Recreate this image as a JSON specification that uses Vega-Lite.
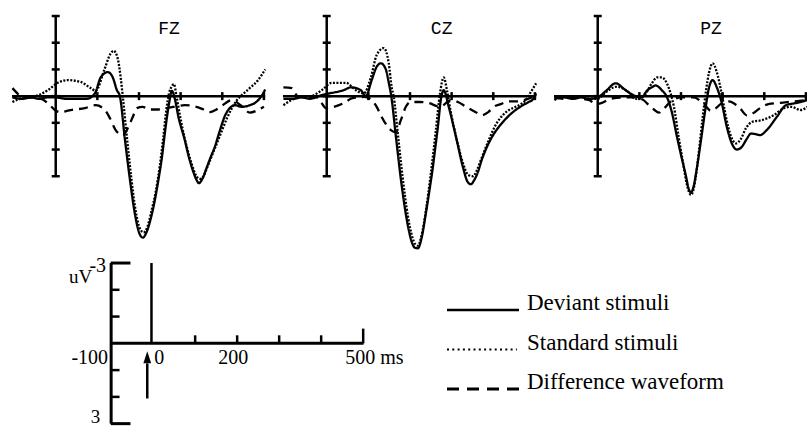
{
  "$schema": "https://vega.github.io/schema/vega-lite/v6.json",
  "padding": {"left": 7, "top": 0, "right": 0, "bottom": 0},
  "background": "white",
  "config": {"view": {"stroke": null}},
  "bounds": "full",
  "spacing": 2,
  "datasets": {
    "erp": [
      {"ch":"FZ","cond":"Deviant","t":-104,"uV":0.05},{"ch":"FZ","cond":"Deviant","t":-80,"uV":0.1},{"ch":"FZ","cond":"Deviant","t":-60,"uV":0.05},{"ch":"FZ","cond":"Deviant","t":-40,"uV":0.1},{"ch":"FZ","cond":"Deviant","t":-20,"uV":0.05},{"ch":"FZ","cond":"Deviant","t":0,"uV":0.05},{"ch":"FZ","cond":"Deviant","t":25,"uV":0.1},{"ch":"FZ","cond":"Deviant","t":50,"uV":0.1},{"ch":"FZ","cond":"Deviant","t":75,"uV":0.1},{"ch":"FZ","cond":"Deviant","t":94,"uV":-0.1},{"ch":"FZ","cond":"Deviant","t":108,"uV":-0.7},{"ch":"FZ","cond":"Deviant","t":125,"uV":-0.9},{"ch":"FZ","cond":"Deviant","t":137,"uV":-0.7},{"ch":"FZ","cond":"Deviant","t":147,"uV":-0.22},{"ch":"FZ","cond":"Deviant","t":154,"uV":0},{"ch":"FZ","cond":"Deviant","t":166,"uV":1.6},{"ch":"FZ","cond":"Deviant","t":178,"uV":3.1},{"ch":"FZ","cond":"Deviant","t":190,"uV":4.4},{"ch":"FZ","cond":"Deviant","t":200,"uV":5.1},{"ch":"FZ","cond":"Deviant","t":209,"uV":5.3},{"ch":"FZ","cond":"Deviant","t":218,"uV":5.1},{"ch":"FZ","cond":"Deviant","t":228,"uV":4.6},{"ch":"FZ","cond":"Deviant","t":238,"uV":3.9},{"ch":"FZ","cond":"Deviant","t":247,"uV":3.1},{"ch":"FZ","cond":"Deviant","t":255,"uV":2.3},{"ch":"FZ","cond":"Deviant","t":262,"uV":1.4},{"ch":"FZ","cond":"Deviant","t":267,"uV":0.8},{"ch":"FZ","cond":"Deviant","t":273,"uV":0.2},{"ch":"FZ","cond":"Deviant","t":279,"uV":-0.2},{"ch":"FZ","cond":"Deviant","t":286,"uV":0.1},{"ch":"FZ","cond":"Deviant","t":295,"uV":0.8},{"ch":"FZ","cond":"Deviant","t":310,"uV":1.65},{"ch":"FZ","cond":"Deviant","t":320,"uV":2.3},{"ch":"FZ","cond":"Deviant","t":329,"uV":2.77},{"ch":"FZ","cond":"Deviant","t":337,"uV":3.1},{"ch":"FZ","cond":"Deviant","t":344,"uV":3.26},{"ch":"FZ","cond":"Deviant","t":352,"uV":3.1},{"ch":"FZ","cond":"Deviant","t":362,"uV":2.7},{"ch":"FZ","cond":"Deviant","t":373,"uV":2.25},{"ch":"FZ","cond":"Deviant","t":382,"uV":1.9},{"ch":"FZ","cond":"Deviant","t":394,"uV":1.3},{"ch":"FZ","cond":"Deviant","t":406,"uV":0.75},{"ch":"FZ","cond":"Deviant","t":418,"uV":0.45},{"ch":"FZ","cond":"Deviant","t":430,"uV":0.34},{"ch":"FZ","cond":"Deviant","t":447,"uV":0.4},{"ch":"FZ","cond":"Deviant","t":466,"uV":0.34},{"ch":"FZ","cond":"Deviant","t":483,"uV":0.2},{"ch":"FZ","cond":"Deviant","t":498,"uV":-0.1},{"ch":"FZ","cond":"Deviant","t":503,"uV":-0.25},
      {"ch":"FZ","cond":"Standard","t":-104,"uV":0.22},{"ch":"FZ","cond":"Standard","t":-85,"uV":0.1},{"ch":"FZ","cond":"Standard","t":-60,"uV":0.05},{"ch":"FZ","cond":"Standard","t":-40,"uV":-0.05},{"ch":"FZ","cond":"Standard","t":-19,"uV":-0.22},{"ch":"FZ","cond":"Standard","t":5,"uV":-0.5},{"ch":"FZ","cond":"Standard","t":29,"uV":-0.6},{"ch":"FZ","cond":"Standard","t":60,"uV":-0.53},{"ch":"FZ","cond":"Standard","t":84,"uV":-0.3},{"ch":"FZ","cond":"Standard","t":96,"uV":-0.2},{"ch":"FZ","cond":"Standard","t":117,"uV":-1.0},{"ch":"FZ","cond":"Standard","t":132,"uV":-1.6},{"ch":"FZ","cond":"Standard","t":139,"uV":-1.7},{"ch":"FZ","cond":"Standard","t":149,"uV":-1.4},{"ch":"FZ","cond":"Standard","t":156,"uV":-0.7},{"ch":"FZ","cond":"Standard","t":161,"uV":0},{"ch":"FZ","cond":"Standard","t":170,"uV":1.4},{"ch":"FZ","cond":"Standard","t":181,"uV":3.0},{"ch":"FZ","cond":"Standard","t":192,"uV":4.3},{"ch":"FZ","cond":"Standard","t":202,"uV":4.95},{"ch":"FZ","cond":"Standard","t":211,"uV":5.1},{"ch":"FZ","cond":"Standard","t":220,"uV":4.9},{"ch":"FZ","cond":"Standard","t":230,"uV":4.3},{"ch":"FZ","cond":"Standard","t":240,"uV":3.6},{"ch":"FZ","cond":"Standard","t":250,"uV":2.6},{"ch":"FZ","cond":"Standard","t":258,"uV":1.6},{"ch":"FZ","cond":"Standard","t":265,"uV":0.6},{"ch":"FZ","cond":"Standard","t":272,"uV":-0.1},{"ch":"FZ","cond":"Standard","t":278,"uV":-0.35},{"ch":"FZ","cond":"Standard","t":284,"uV":-0.45},{"ch":"FZ","cond":"Standard","t":290,"uV":0},{"ch":"FZ","cond":"Standard","t":298,"uV":0.7},{"ch":"FZ","cond":"Standard","t":310,"uV":1.6},{"ch":"FZ","cond":"Standard","t":320,"uV":2.2},{"ch":"FZ","cond":"Standard","t":330,"uV":2.7},{"ch":"FZ","cond":"Standard","t":338,"uV":3.0},{"ch":"FZ","cond":"Standard","t":346,"uV":3.1},{"ch":"FZ","cond":"Standard","t":355,"uV":3.0},{"ch":"FZ","cond":"Standard","t":363,"uV":2.7},{"ch":"FZ","cond":"Standard","t":372,"uV":2.35},{"ch":"FZ","cond":"Standard","t":381,"uV":2.0},{"ch":"FZ","cond":"Standard","t":399,"uV":1.3},{"ch":"FZ","cond":"Standard","t":412,"uV":0.8},{"ch":"FZ","cond":"Standard","t":423,"uV":0.46},{"ch":"FZ","cond":"Standard","t":435,"uV":0.15},{"ch":"FZ","cond":"Standard","t":447,"uV":-0.04},{"ch":"FZ","cond":"Standard","t":466,"uV":-0.3},{"ch":"FZ","cond":"Standard","t":486,"uV":-0.6},{"ch":"FZ","cond":"Standard","t":503,"uV":-1.0},
      {"ch":"FZ","cond":"Difference","t":-104,"uV":-0.3},{"ch":"FZ","cond":"Difference","t":-95,"uV":-0.15},{"ch":"FZ","cond":"Difference","t":-85,"uV":0.0},{"ch":"FZ","cond":"Difference","t":-60,"uV":0.05},{"ch":"FZ","cond":"Difference","t":-35,"uV":0.1},{"ch":"FZ","cond":"Difference","t":-14,"uV":0.34},{"ch":"FZ","cond":"Difference","t":-2,"uV":0.52},{"ch":"FZ","cond":"Difference","t":12,"uV":0.6},{"ch":"FZ","cond":"Difference","t":36,"uV":0.52},{"ch":"FZ","cond":"Difference","t":70,"uV":0.45},{"ch":"FZ","cond":"Difference","t":96,"uV":0.34},{"ch":"FZ","cond":"Difference","t":118,"uV":0.52},{"ch":"FZ","cond":"Difference","t":130,"uV":0.82},{"ch":"FZ","cond":"Difference","t":144,"uV":1.27},{"ch":"FZ","cond":"Difference","t":161,"uV":1.46},{"ch":"FZ","cond":"Difference","t":173,"uV":1.2},{"ch":"FZ","cond":"Difference","t":185,"uV":0.78},{"ch":"FZ","cond":"Difference","t":195,"uV":0.45},{"ch":"FZ","cond":"Difference","t":209,"uV":0.4},{"ch":"FZ","cond":"Difference","t":225,"uV":0.5},{"ch":"FZ","cond":"Difference","t":245,"uV":0.5},{"ch":"FZ","cond":"Difference","t":268,"uV":0.45},{"ch":"FZ","cond":"Difference","t":290,"uV":0.38},{"ch":"FZ","cond":"Difference","t":310,"uV":0.34},{"ch":"FZ","cond":"Difference","t":338,"uV":0.4},{"ch":"FZ","cond":"Difference","t":355,"uV":0.5},{"ch":"FZ","cond":"Difference","t":370,"uV":0.6},{"ch":"FZ","cond":"Difference","t":386,"uV":0.5},{"ch":"FZ","cond":"Difference","t":401,"uV":0.34},{"ch":"FZ","cond":"Difference","t":423,"uV":0.15},{"ch":"FZ","cond":"Difference","t":445,"uV":0.35},{"ch":"FZ","cond":"Difference","t":466,"uV":0.62},{"ch":"FZ","cond":"Difference","t":482,"uV":0.55},{"ch":"FZ","cond":"Difference","t":500,"uV":0.4},
      {"ch":"CZ","cond":"Deviant","t":-104,"uV":0.1},{"ch":"CZ","cond":"Deviant","t":-80,"uV":0.1},{"ch":"CZ","cond":"Deviant","t":-60,"uV":0.05},{"ch":"CZ","cond":"Deviant","t":-40,"uV":0.1},{"ch":"CZ","cond":"Deviant","t":-20,"uV":0.0},{"ch":"CZ","cond":"Deviant","t":5,"uV":-0.1},{"ch":"CZ","cond":"Deviant","t":22,"uV":-0.15},{"ch":"CZ","cond":"Deviant","t":40,"uV":-0.22},{"ch":"CZ","cond":"Deviant","t":58,"uV":-0.33},{"ch":"CZ","cond":"Deviant","t":82,"uV":-0.22},{"ch":"CZ","cond":"Deviant","t":94,"uV":0},{"ch":"CZ","cond":"Deviant","t":108,"uV":-0.6},{"ch":"CZ","cond":"Deviant","t":120,"uV":-1.1},{"ch":"CZ","cond":"Deviant","t":130,"uV":-1.23},{"ch":"CZ","cond":"Deviant","t":142,"uV":-1.0},{"ch":"CZ","cond":"Deviant","t":149,"uV":-0.5},{"ch":"CZ","cond":"Deviant","t":155,"uV":0},{"ch":"CZ","cond":"Deviant","t":166,"uV":1.5},{"ch":"CZ","cond":"Deviant","t":178,"uV":3.1},{"ch":"CZ","cond":"Deviant","t":192,"uV":4.6},{"ch":"CZ","cond":"Deviant","t":204,"uV":5.45},{"ch":"CZ","cond":"Deviant","t":212,"uV":5.68},{"ch":"CZ","cond":"Deviant","t":219,"uV":5.7},{"ch":"CZ","cond":"Deviant","t":228,"uV":5.3},{"ch":"CZ","cond":"Deviant","t":238,"uV":4.4},{"ch":"CZ","cond":"Deviant","t":247,"uV":3.5},{"ch":"CZ","cond":"Deviant","t":255,"uV":2.65},{"ch":"CZ","cond":"Deviant","t":261,"uV":1.9},{"ch":"CZ","cond":"Deviant","t":267,"uV":1.15},{"ch":"CZ","cond":"Deviant","t":274,"uV":0.15},{"ch":"CZ","cond":"Deviant","t":281,"uV":-0.22},{"ch":"CZ","cond":"Deviant","t":293,"uV":0.4},{"ch":"CZ","cond":"Deviant","t":310,"uV":1.5},{"ch":"CZ","cond":"Deviant","t":327,"uV":2.65},{"ch":"CZ","cond":"Deviant","t":338,"uV":3.2},{"ch":"CZ","cond":"Deviant","t":346,"uV":3.3},{"ch":"CZ","cond":"Deviant","t":354,"uV":3.15},{"ch":"CZ","cond":"Deviant","t":363,"uV":2.85},{"ch":"CZ","cond":"Deviant","t":372,"uV":2.4},{"ch":"CZ","cond":"Deviant","t":382,"uV":2.0},{"ch":"CZ","cond":"Deviant","t":398,"uV":1.5},{"ch":"CZ","cond":"Deviant","t":413,"uV":1.16},{"ch":"CZ","cond":"Deviant","t":430,"uV":0.85},{"ch":"CZ","cond":"Deviant","t":447,"uV":0.6},{"ch":"CZ","cond":"Deviant","t":460,"uV":0.45},{"ch":"CZ","cond":"Deviant","t":471,"uV":0.34},{"ch":"CZ","cond":"Deviant","t":485,"uV":0.22},{"ch":"CZ","cond":"Deviant","t":495,"uV":0.12},{"ch":"CZ","cond":"Deviant","t":503,"uV":-0.1},
      {"ch":"CZ","cond":"Standard","t":-104,"uV":0.34},{"ch":"CZ","cond":"Standard","t":-85,"uV":0.15},{"ch":"CZ","cond":"Standard","t":-60,"uV":0.0},{"ch":"CZ","cond":"Standard","t":-40,"uV":0.0},{"ch":"CZ","cond":"Standard","t":-12,"uV":-0.22},{"ch":"CZ","cond":"Standard","t":12,"uV":-0.5},{"ch":"CZ","cond":"Standard","t":46,"uV":-0.5},{"ch":"CZ","cond":"Standard","t":70,"uV":-0.22},{"ch":"CZ","cond":"Standard","t":89,"uV":-0.1},{"ch":"CZ","cond":"Standard","t":106,"uV":-0.7},{"ch":"CZ","cond":"Standard","t":120,"uV":-1.54},{"ch":"CZ","cond":"Standard","t":137,"uV":-1.8},{"ch":"CZ","cond":"Standard","t":149,"uV":-1.23},{"ch":"CZ","cond":"Standard","t":156,"uV":-0.33},{"ch":"CZ","cond":"Standard","t":161,"uV":0.03},{"ch":"CZ","cond":"Standard","t":170,"uV":1.3},{"ch":"CZ","cond":"Standard","t":182,"uV":3.0},{"ch":"CZ","cond":"Standard","t":195,"uV":4.5},{"ch":"CZ","cond":"Standard","t":206,"uV":5.3},{"ch":"CZ","cond":"Standard","t":213,"uV":5.55},{"ch":"CZ","cond":"Standard","t":219,"uV":5.6},{"ch":"CZ","cond":"Standard","t":228,"uV":5.2},{"ch":"CZ","cond":"Standard","t":238,"uV":4.3},{"ch":"CZ","cond":"Standard","t":250,"uV":2.9},{"ch":"CZ","cond":"Standard","t":262,"uV":1.3},{"ch":"CZ","cond":"Standard","t":272,"uV":-0.1},{"ch":"CZ","cond":"Standard","t":281,"uV":-0.7},{"ch":"CZ","cond":"Standard","t":289,"uV":-0.2},{"ch":"CZ","cond":"Standard","t":298,"uV":0.6},{"ch":"CZ","cond":"Standard","t":312,"uV":1.6},{"ch":"CZ","cond":"Standard","t":327,"uV":2.5},{"ch":"CZ","cond":"Standard","t":340,"uV":2.95},{"ch":"CZ","cond":"Standard","t":351,"uV":3.0},{"ch":"CZ","cond":"Standard","t":360,"uV":2.8},{"ch":"CZ","cond":"Standard","t":370,"uV":2.4},{"ch":"CZ","cond":"Standard","t":389,"uV":1.65},{"ch":"CZ","cond":"Standard","t":405,"uV":1.1},{"ch":"CZ","cond":"Standard","t":423,"uV":0.71},{"ch":"CZ","cond":"Standard","t":440,"uV":0.5},{"ch":"CZ","cond":"Standard","t":454,"uV":0.4},{"ch":"CZ","cond":"Standard","t":466,"uV":0.3},{"ch":"CZ","cond":"Standard","t":478,"uV":0.15},{"ch":"CZ","cond":"Standard","t":490,"uV":-0.15},{"ch":"CZ","cond":"Standard","t":503,"uV":-0.48},
      {"ch":"CZ","cond":"Difference","t":-104,"uV":-0.33},{"ch":"CZ","cond":"Difference","t":-84,"uV":-0.3},{"ch":"CZ","cond":"Difference","t":-70,"uV":0.0},{"ch":"CZ","cond":"Difference","t":-45,"uV":0.05},{"ch":"CZ","cond":"Difference","t":-25,"uV":0.05},{"ch":"CZ","cond":"Difference","t":-14,"uV":0.22},{"ch":"CZ","cond":"Difference","t":-2,"uV":0.45},{"ch":"CZ","cond":"Difference","t":17,"uV":0.4},{"ch":"CZ","cond":"Difference","t":46,"uV":0.22},{"ch":"CZ","cond":"Difference","t":60,"uV":0.08},{"ch":"CZ","cond":"Difference","t":90,"uV":0.03},{"ch":"CZ","cond":"Difference","t":108,"uV":0.15},{"ch":"CZ","cond":"Difference","t":120,"uV":0.4},{"ch":"CZ","cond":"Difference","t":132,"uV":0.78},{"ch":"CZ","cond":"Difference","t":154,"uV":1.27},{"ch":"CZ","cond":"Difference","t":166,"uV":1.35},{"ch":"CZ","cond":"Difference","t":178,"uV":0.9},{"ch":"CZ","cond":"Difference","t":190,"uV":0.4},{"ch":"CZ","cond":"Difference","t":202,"uV":0.22},{"ch":"CZ","cond":"Difference","t":222,"uV":0.22},{"ch":"CZ","cond":"Difference","t":245,"uV":0.26},{"ch":"CZ","cond":"Difference","t":272,"uV":0.4},{"ch":"CZ","cond":"Difference","t":298,"uV":0.15},{"ch":"CZ","cond":"Difference","t":315,"uV":0.22},{"ch":"CZ","cond":"Difference","t":335,"uV":0.4},{"ch":"CZ","cond":"Difference","t":358,"uV":0.6},{"ch":"CZ","cond":"Difference","t":373,"uV":0.71},{"ch":"CZ","cond":"Difference","t":388,"uV":0.6},{"ch":"CZ","cond":"Difference","t":401,"uV":0.4},{"ch":"CZ","cond":"Difference","t":418,"uV":0.3},{"ch":"CZ","cond":"Difference","t":435,"uV":0.2},{"ch":"CZ","cond":"Difference","t":455,"uV":0.2},{"ch":"CZ","cond":"Difference","t":474,"uV":0.15},{"ch":"CZ","cond":"Difference","t":500,"uV":0.0},
      {"ch":"PZ","cond":"Deviant","t":-104,"uV":0.1},{"ch":"PZ","cond":"Deviant","t":-80,"uV":0.05},{"ch":"PZ","cond":"Deviant","t":-60,"uV":0.1},{"ch":"PZ","cond":"Deviant","t":-40,"uV":0.05},{"ch":"PZ","cond":"Deviant","t":-20,"uV":0.1},{"ch":"PZ","cond":"Deviant","t":0,"uV":0.05},{"ch":"PZ","cond":"Deviant","t":20,"uV":-0.2},{"ch":"PZ","cond":"Deviant","t":43,"uV":-0.48},{"ch":"PZ","cond":"Deviant","t":67,"uV":-0.22},{"ch":"PZ","cond":"Deviant","t":91,"uV":0},{"ch":"PZ","cond":"Deviant","t":105,"uV":0.05},{"ch":"PZ","cond":"Deviant","t":118,"uV":-0.2},{"ch":"PZ","cond":"Deviant","t":130,"uV":-0.33},{"ch":"PZ","cond":"Deviant","t":139,"uV":-0.4},{"ch":"PZ","cond":"Deviant","t":154,"uV":-0.22},{"ch":"PZ","cond":"Deviant","t":166,"uV":0.03},{"ch":"PZ","cond":"Deviant","t":178,"uV":0.6},{"ch":"PZ","cond":"Deviant","t":190,"uV":1.5},{"ch":"PZ","cond":"Deviant","t":200,"uV":2.2},{"ch":"PZ","cond":"Deviant","t":212,"uV":3.0},{"ch":"PZ","cond":"Deviant","t":219,"uV":3.5},{"ch":"PZ","cond":"Deviant","t":224,"uV":3.6},{"ch":"PZ","cond":"Deviant","t":230,"uV":3.4},{"ch":"PZ","cond":"Deviant","t":236,"uV":2.9},{"ch":"PZ","cond":"Deviant","t":248,"uV":1.65},{"ch":"PZ","cond":"Deviant","t":260,"uV":0.34},{"ch":"PZ","cond":"Deviant","t":267,"uV":-0.3},{"ch":"PZ","cond":"Deviant","t":276,"uV":-0.6},{"ch":"PZ","cond":"Deviant","t":286,"uV":-0.33},{"ch":"PZ","cond":"Deviant","t":298,"uV":0.26},{"ch":"PZ","cond":"Deviant","t":310,"uV":1.15},{"ch":"PZ","cond":"Deviant","t":322,"uV":1.77},{"ch":"PZ","cond":"Deviant","t":334,"uV":2.0},{"ch":"PZ","cond":"Deviant","t":346,"uV":1.9},{"ch":"PZ","cond":"Deviant","t":358,"uV":1.6},{"ch":"PZ","cond":"Deviant","t":368,"uV":1.4},{"ch":"PZ","cond":"Deviant","t":378,"uV":1.42},{"ch":"PZ","cond":"Deviant","t":390,"uV":1.46},{"ch":"PZ","cond":"Deviant","t":406,"uV":1.27},{"ch":"PZ","cond":"Deviant","t":430,"uV":0.78},{"ch":"PZ","cond":"Deviant","t":452,"uV":0.34},{"ch":"PZ","cond":"Deviant","t":476,"uV":0.26},{"ch":"PZ","cond":"Deviant","t":503,"uV":0.15},
      {"ch":"PZ","cond":"Standard","t":-104,"uV":0.15},{"ch":"PZ","cond":"Standard","t":-80,"uV":0.0},{"ch":"PZ","cond":"Standard","t":-60,"uV":0.1},{"ch":"PZ","cond":"Standard","t":-40,"uV":0.0},{"ch":"PZ","cond":"Standard","t":-20,"uV":0.1},{"ch":"PZ","cond":"Standard","t":0,"uV":0.1},{"ch":"PZ","cond":"Standard","t":20,"uV":-0.15},{"ch":"PZ","cond":"Standard","t":45,"uV":-0.35},{"ch":"PZ","cond":"Standard","t":70,"uV":-0.2},{"ch":"PZ","cond":"Standard","t":91,"uV":0.1},{"ch":"PZ","cond":"Standard","t":110,"uV":0.0},{"ch":"PZ","cond":"Standard","t":130,"uV":-0.48},{"ch":"PZ","cond":"Standard","t":142,"uV":-0.7},{"ch":"PZ","cond":"Standard","t":154,"uV":-0.7},{"ch":"PZ","cond":"Standard","t":166,"uV":-0.48},{"ch":"PZ","cond":"Standard","t":175,"uV":-0.1},{"ch":"PZ","cond":"Standard","t":183,"uV":0.4},{"ch":"PZ","cond":"Standard","t":194,"uV":1.5},{"ch":"PZ","cond":"Standard","t":205,"uV":2.5},{"ch":"PZ","cond":"Standard","t":214,"uV":3.3},{"ch":"PZ","cond":"Standard","t":224,"uV":3.7},{"ch":"PZ","cond":"Standard","t":232,"uV":3.35},{"ch":"PZ","cond":"Standard","t":242,"uV":2.2},{"ch":"PZ","cond":"Standard","t":252,"uV":0.8},{"ch":"PZ","cond":"Standard","t":260,"uV":-0.2},{"ch":"PZ","cond":"Standard","t":267,"uV":-0.86},{"ch":"PZ","cond":"Standard","t":276,"uV":-1.23},{"ch":"PZ","cond":"Standard","t":286,"uV":-0.9},{"ch":"PZ","cond":"Standard","t":296,"uV":-0.22},{"ch":"PZ","cond":"Standard","t":308,"uV":0.78},{"ch":"PZ","cond":"Standard","t":320,"uV":1.5},{"ch":"PZ","cond":"Standard","t":332,"uV":1.77},{"ch":"PZ","cond":"Standard","t":344,"uV":1.6},{"ch":"PZ","cond":"Standard","t":356,"uV":1.2},{"ch":"PZ","cond":"Standard","t":370,"uV":0.97},{"ch":"PZ","cond":"Standard","t":394,"uV":0.9},{"ch":"PZ","cond":"Standard","t":423,"uV":0.71},{"ch":"PZ","cond":"Standard","t":447,"uV":0.45},{"ch":"PZ","cond":"Standard","t":464,"uV":0.4},{"ch":"PZ","cond":"Standard","t":488,"uV":0.52},{"ch":"PZ","cond":"Standard","t":503,"uV":0.4},
      {"ch":"PZ","cond":"Difference","t":-104,"uV":0.05},{"ch":"PZ","cond":"Difference","t":-80,"uV":0.1},{"ch":"PZ","cond":"Difference","t":-60,"uV":0.05},{"ch":"PZ","cond":"Difference","t":-40,"uV":0.1},{"ch":"PZ","cond":"Difference","t":-20,"uV":0.15},{"ch":"PZ","cond":"Difference","t":-5,"uV":0.3},{"ch":"PZ","cond":"Difference","t":10,"uV":0.25},{"ch":"PZ","cond":"Difference","t":30,"uV":0.1},{"ch":"PZ","cond":"Difference","t":60,"uV":0.05},{"ch":"PZ","cond":"Difference","t":90,"uV":0.05},{"ch":"PZ","cond":"Difference","t":110,"uV":0.15},{"ch":"PZ","cond":"Difference","t":123,"uV":0.34},{"ch":"PZ","cond":"Difference","t":135,"uV":0.5},{"ch":"PZ","cond":"Difference","t":147,"uV":0.62},{"ch":"PZ","cond":"Difference","t":160,"uV":0.45},{"ch":"PZ","cond":"Difference","t":175,"uV":0.2},{"ch":"PZ","cond":"Difference","t":200,"uV":0.05},{"ch":"PZ","cond":"Difference","t":230,"uV":0.05},{"ch":"PZ","cond":"Difference","t":255,"uV":0.3},{"ch":"PZ","cond":"Difference","t":272,"uV":0.55},{"ch":"PZ","cond":"Difference","t":284,"uV":0.45},{"ch":"PZ","cond":"Difference","t":295,"uV":0.3},{"ch":"PZ","cond":"Difference","t":315,"uV":0.2},{"ch":"PZ","cond":"Difference","t":330,"uV":0.3},{"ch":"PZ","cond":"Difference","t":339,"uV":0.4},{"ch":"PZ","cond":"Difference","t":358,"uV":0.72},{"ch":"PZ","cond":"Difference","t":368,"uV":0.68},{"ch":"PZ","cond":"Difference","t":377,"uV":0.6},{"ch":"PZ","cond":"Difference","t":394,"uV":0.4},{"ch":"PZ","cond":"Difference","t":410,"uV":0.3},{"ch":"PZ","cond":"Difference","t":440,"uV":0.25},{"ch":"PZ","cond":"Difference","t":470,"uV":0.2},{"ch":"PZ","cond":"Difference","t":503,"uV":0.15}
    ],
    "yticks": [{"v":-3},{"v":-2},{"v":-1},{"v":0},{"v":1},{"v":2},{"v":3}],
    "xticks": [{"t":100},{"t":200},{"t":300},{"t":400},{"t":500}],
    "sbminor": [{"v":-2},{"v":-1},{"v":1},{"v":2}],
    "sbticks": [{"t":100},{"t":200},{"t":300},{"t":400}],
    "legend": [{"cond":"Deviant","label":"Deviant stimuli"},{"cond":"Standard","label":"Standard stimuli"},{"cond":"Difference","label":"Difference waveform"}]
  },
  "vconcat": [
    {
      "bounds": "flush",
      "spacing": 17,
      "hconcat": [
        {
          "width": 254, "height": 243,
          "layer": [
            {"data": {"values": [{}]}, "mark": {"type": "rule", "strokeWidth": 2.5, "color": "black"},
             "encoding": {"x": {"datum": -105, "type": "quantitative", "scale": {"domain": [-105, 505], "nice": false, "zero": false}, "axis": null}, "x2": {"datum": 503}, "y": {"datum": 0, "type": "quantitative", "scale": {"domain": [-3.6, 5.5], "nice": false, "zero": false, "reverse": true}, "axis": null}}},
            {"data": {"values": [{}]}, "mark": {"type": "rule", "strokeWidth": 2.5, "color": "black"},
             "encoding": {"x": {"datum": 0, "type": "quantitative"}, "y": {"datum": -3, "type": "quantitative"}, "y2": {"datum": 3}}},
            {"data": {"name": "yticks"}, "mark": {"type": "tick", "orient": "horizontal", "size": 8, "thickness": 2.5, "color": "black", "opacity": 1},
             "encoding": {"x": {"datum": 0, "type": "quantitative"}, "y": {"field": "v", "type": "quantitative"}}},
            {"data": {"name": "xticks"}, "mark": {"type": "tick", "orient": "vertical", "size": 8, "thickness": 2.5, "color": "black", "opacity": 1},
             "encoding": {"x": {"field": "t", "type": "quantitative"}, "y": {"datum": 0, "type": "quantitative"}}},
            {"data": {"name": "erp"}, "transform": [{"filter": "datum.ch === 'FZ'"}],
             "mark": {"type": "line", "interpolate": "monotone", "strokeWidth": 2.3, "color": "black"},
             "encoding": {"x": {"field": "t", "type": "quantitative"}, "y": {"field": "uV", "type": "quantitative"},
               "strokeDash": {"field": "cond", "type": "nominal", "scale": {"domain": ["Difference", "Standard", "Deviant"], "range": [[9, 6], [2, 1.5], [1, 0]]}, "legend": null}}},
            {"data": {"values": [{}]}, "mark": {"type": "text", "text": "FZ", "font": "Liberation Mono", "fontSize": 18, "color": "black"},
             "encoding": {"x": {"datum": 272, "type": "quantitative"}, "y": {"datum": -2.5, "type": "quantitative"}}}
          ]
        },
        {
          "width": 254, "height": 243,
          "layer": [
            {"data": {"values": [{}]}, "mark": {"type": "rule", "strokeWidth": 2.5, "color": "black"},
             "encoding": {"x": {"datum": -105, "type": "quantitative", "scale": {"domain": [-105, 505], "nice": false, "zero": false}, "axis": null}, "x2": {"datum": 503}, "y": {"datum": 0, "type": "quantitative", "scale": {"domain": [-3.6, 5.5], "nice": false, "zero": false, "reverse": true}, "axis": null}}},
            {"data": {"values": [{}]}, "mark": {"type": "rule", "strokeWidth": 2.5, "color": "black"},
             "encoding": {"x": {"datum": 0, "type": "quantitative"}, "y": {"datum": -3, "type": "quantitative"}, "y2": {"datum": 3}}},
            {"data": {"name": "yticks"}, "mark": {"type": "tick", "orient": "horizontal", "size": 8, "thickness": 2.5, "color": "black", "opacity": 1},
             "encoding": {"x": {"datum": 0, "type": "quantitative"}, "y": {"field": "v", "type": "quantitative"}}},
            {"data": {"name": "xticks"}, "mark": {"type": "tick", "orient": "vertical", "size": 8, "thickness": 2.5, "color": "black", "opacity": 1},
             "encoding": {"x": {"field": "t", "type": "quantitative"}, "y": {"datum": 0, "type": "quantitative"}}},
            {"data": {"name": "erp"}, "transform": [{"filter": "datum.ch === 'CZ'"}],
             "mark": {"type": "line", "interpolate": "monotone", "strokeWidth": 2.3, "color": "black"},
             "encoding": {"x": {"field": "t", "type": "quantitative"}, "y": {"field": "uV", "type": "quantitative"},
               "strokeDash": {"field": "cond", "type": "nominal", "scale": {"domain": ["Difference", "Standard", "Deviant"], "range": [[9, 6], [2, 1.5], [1, 0]]}, "legend": null}}},
            {"data": {"values": [{}]}, "mark": {"type": "text", "text": "CZ", "font": "Liberation Mono", "fontSize": 18, "color": "black"},
             "encoding": {"x": {"datum": 276, "type": "quantitative"}, "y": {"datum": -2.5, "type": "quantitative"}}}
          ]
        },
        {
          "width": 254, "height": 243,
          "layer": [
            {"data": {"values": [{}]}, "mark": {"type": "rule", "strokeWidth": 2.5, "color": "black"},
             "encoding": {"x": {"datum": -105, "type": "quantitative", "scale": {"domain": [-105, 505], "nice": false, "zero": false}, "axis": null}, "x2": {"datum": 505}, "y": {"datum": 0, "type": "quantitative", "scale": {"domain": [-3.6, 5.5], "nice": false, "zero": false, "reverse": true}, "axis": null}}},
            {"data": {"values": [{}]}, "mark": {"type": "rule", "strokeWidth": 2.5, "color": "black"},
             "encoding": {"x": {"datum": 0, "type": "quantitative"}, "y": {"datum": -3, "type": "quantitative"}, "y2": {"datum": 3}}},
            {"data": {"name": "yticks"}, "mark": {"type": "tick", "orient": "horizontal", "size": 8, "thickness": 2.5, "color": "black", "opacity": 1},
             "encoding": {"x": {"datum": 0, "type": "quantitative"}, "y": {"field": "v", "type": "quantitative"}}},
            {"data": {"name": "xticks"}, "mark": {"type": "tick", "orient": "vertical", "size": 8, "thickness": 2.5, "color": "black", "opacity": 1},
             "encoding": {"x": {"field": "t", "type": "quantitative"}, "y": {"datum": 0, "type": "quantitative"}}},
            {"data": {"name": "erp"}, "transform": [{"filter": "datum.ch === 'PZ'"}],
             "mark": {"type": "line", "interpolate": "monotone", "strokeWidth": 2.3, "color": "black"},
             "encoding": {"x": {"field": "t", "type": "quantitative"}, "y": {"field": "uV", "type": "quantitative"},
               "strokeDash": {"field": "cond", "type": "nominal", "scale": {"domain": ["Difference", "Standard", "Deviant"], "range": [[9, 6], [2, 1.5], [1, 0]]}, "legend": null}}},
            {"data": {"values": [{}]}, "mark": {"type": "text", "text": "PZ", "font": "Liberation Mono", "fontSize": 18, "color": "black"},
             "encoding": {"x": {"datum": 272, "type": "quantitative"}, "y": {"datum": -2.5, "type": "quantitative"}}}
          ]
        }
      ]
    },
    {
      "bounds": "flush",
      "spacing": 75,
      "hconcat": [
        {
          "width": 360, "height": 174,
          "layer": [
            {"data": {"values": [{}]}, "mark": {"type": "rule", "strokeWidth": 3, "color": "black"},
             "encoding": {"x": {"datum": -100, "type": "quantitative", "scale": {"domain": [-336, 521], "nice": false, "zero": false}, "axis": null}, "y": {"datum": -3, "type": "quantitative", "scale": {"domain": [-3.3, 3.2], "nice": false, "zero": false, "reverse": true}, "axis": null}, "y2": {"datum": 3}}},
            {"data": {"values": [{}]}, "mark": {"type": "rule", "strokeWidth": 3, "color": "black"},
             "encoding": {"x": {"datum": -101, "type": "quantitative"}, "x2": {"datum": -54}, "y": {"datum": -3, "type": "quantitative"}}},
            {"data": {"values": [{}]}, "mark": {"type": "rule", "strokeWidth": 3, "color": "black"},
             "encoding": {"x": {"datum": -101, "type": "quantitative"}, "x2": {"datum": -54}, "y": {"datum": 3, "type": "quantitative"}}},
            {"data": {"name": "sbminor"}, "mark": {"type": "rule", "strokeWidth": 2.5, "color": "black"},
             "encoding": {"x": {"datum": -100, "type": "quantitative"}, "x2": {"datum": -80}, "y": {"field": "v", "type": "quantitative"}}},
            {"data": {"values": [{}]}, "mark": {"type": "rule", "strokeWidth": 3, "color": "black"},
             "encoding": {"x": {"datum": -100, "type": "quantitative"}, "x2": {"datum": 501}, "y": {"datum": 0, "type": "quantitative"}}},
            {"data": {"name": "sbticks"}, "mark": {"type": "rule", "strokeWidth": 2.5, "color": "black"},
             "encoding": {"x": {"field": "t", "type": "quantitative"}, "y": {"datum": 0, "type": "quantitative"}, "y2": {"datum": -0.3}}},
            {"data": {"values": [{}]}, "mark": {"type": "rule", "strokeWidth": 2.5, "color": "black"},
             "encoding": {"x": {"datum": 500, "type": "quantitative"}, "y": {"datum": 0, "type": "quantitative"}, "y2": {"datum": -0.55}}},
            {"data": {"values": [{}]}, "mark": {"type": "rule", "strokeWidth": 2.5, "color": "black"},
             "encoding": {"x": {"datum": -4, "type": "quantitative"}, "y": {"datum": -3, "type": "quantitative"}, "y2": {"datum": 0}}},
            {"data": {"values": [{}]}, "mark": {"type": "rule", "strokeWidth": 2.5, "color": "black"},
             "encoding": {"x": {"datum": -14, "type": "quantitative"}, "y": {"datum": 0.75, "type": "quantitative"}, "y2": {"datum": 2.06}}},
            {"data": {"values": [{}]}, "mark": {"type": "point", "shape": "M0,-1L0.65,1L-0.65,1Z", "size": 144, "filled": true, "color": "black", "opacity": 1},
             "encoding": {"x": {"datum": -14, "type": "quantitative"}, "y": {"datum": 0.52, "type": "quantitative"}}},
            {"data": {"values": [{}]}, "mark": {"type": "text", "text": "-100", "font": "Liberation Serif", "fontSize": 20, "align": "right", "baseline": "middle", "dx": -3, "dy": 15, "color": "black"},
             "encoding": {"x": {"datum": -100, "type": "quantitative"}, "y": {"datum": 0, "type": "quantitative"}}},
            {"data": {"values": [{}]}, "mark": {"type": "text", "text": "0", "font": "Liberation Serif", "fontSize": 20, "align": "left", "baseline": "middle", "dx": 1, "dy": 15, "color": "black"},
             "encoding": {"x": {"datum": 0, "type": "quantitative"}, "y": {"datum": 0, "type": "quantitative"}}},
            {"data": {"values": [{}]}, "mark": {"type": "text", "text": "200", "font": "Liberation Serif", "fontSize": 20, "align": "center", "baseline": "middle", "dx": -4, "dy": 15, "color": "black"},
             "encoding": {"x": {"datum": 200, "type": "quantitative"}, "y": {"datum": 0, "type": "quantitative"}}},
            {"data": {"values": [{}]}, "mark": {"type": "text", "text": "500 ms", "font": "Liberation Serif", "fontSize": 20, "align": "left", "baseline": "middle", "dx": -18, "dy": 15, "color": "black"},
             "encoding": {"x": {"datum": 500, "type": "quantitative"}, "y": {"datum": 0, "type": "quantitative"}}},
            {"data": {"values": [{}]}, "mark": {"type": "text", "text": "-3", "font": "Liberation Serif", "fontSize": 20, "align": "right", "baseline": "middle", "dx": -5, "dy": 3, "color": "black"},
             "encoding": {"x": {"datum": -100, "type": "quantitative"}, "y": {"datum": -3, "type": "quantitative"}}},
            {"data": {"values": [{}]}, "mark": {"type": "text", "text": "uV", "font": "Liberation Serif", "fontSize": 19, "align": "right", "baseline": "alphabetic", "dx": -19, "dy": 20, "color": "black"},
             "encoding": {"x": {"datum": -100, "type": "quantitative"}, "y": {"datum": -3, "type": "quantitative"}}},
            {"data": {"values": [{}]}, "mark": {"type": "text", "text": "3", "font": "Liberation Serif", "fontSize": 19, "align": "right", "baseline": "middle", "dx": -11, "dy": -7, "color": "black"},
             "encoding": {"x": {"datum": -100, "type": "quantitative"}, "y": {"datum": 3, "type": "quantitative"}}}
          ]
        },
        {
          "width": 72, "height": 174,
          "data": {"name": "legend"},
          "layer": [
            {"transform": [{"filter": "datum.cond === 'Deviant'"}], "mark": {"type": "rule", "strokeWidth": 2.6, "color": "black"},
             "encoding": {"x": {"datum": 0, "type": "quantitative", "scale": {"domain": [0, 1], "nice": false, "zero": false}, "axis": null}, "x2": {"datum": 1},
               "y": {"field": "cond", "type": "nominal", "sort": ["Deviant", "Standard", "Difference"], "scale": {"type": "point", "domain": ["Deviant", "Standard", "Difference"], "range": [55, 134], "padding": 0}, "axis": null}}},
            {"transform": [{"filter": "datum.cond === 'Standard'"}], "mark": {"type": "rule", "strokeWidth": 2.2, "color": "black", "strokeDash": [2, 3.3]},
             "encoding": {"x": {"datum": 0, "type": "quantitative"}, "x2": {"datum": 0.97}, "y": {"field": "cond", "type": "nominal"}}},
            {"transform": [{"filter": "datum.cond === 'Difference'"}], "mark": {"type": "rule", "strokeWidth": 2.8, "color": "black", "strokeDash": [12, 8]},
             "encoding": {"x": {"datum": 0, "type": "quantitative"}, "x2": {"datum": 1}, "y": {"field": "cond", "type": "nominal"}}},
            {"mark": {"type": "text", "font": "Liberation Serif", "fontSize": 23, "align": "left", "baseline": "alphabetic", "dx": 8, "color": "black"},
             "encoding": {"x": {"datum": 1, "type": "quantitative"}, "y": {"field": "cond", "type": "nominal"}, "text": {"field": "label"}}}
          ]
        }
      ]
    }
  ]
}
